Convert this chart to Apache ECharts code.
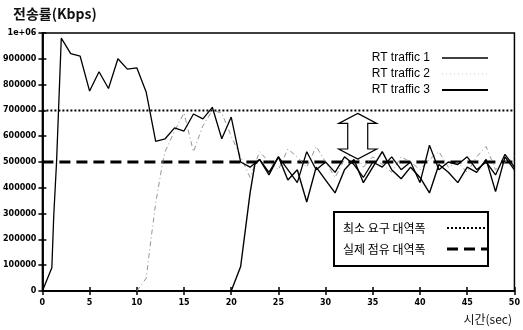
<!DOCTYPE html>
<html><head><meta charset="utf-8">
<script src="https://cdn.jsdelivr.net/npm/echarts@6/dist/echarts.min.js"></script>
<style>html,body{margin:0;padding:0;background:#fff}#c{width:523px;height:330px}</style>
</head><body><div id="c"></div>
<script>
// time (sec), throughput (bps)
var traffic1 = [[0,0],[1,90000],[1.2,290000],[1.5,500000],[2,980000],[3,920000],[4,910000],[5,775000],[6,850000],[7,785000],[8,900000],[9,860000],[10,865000],[11,770000],[12,580000],[13,590000],[14,632000],[15,620000],[16,686000],[17,667000],[18,712000],[19,590000],[20,674000],[21,500000],[22,480000],[23,510000],[24,450000],[25,520000],[26,470000],[27,420000],[28,540000],[29,470000],[30,500000],[31,460000],[32,520000],[33,490000],[34,440000],[35,500000],[36,480000],[37,520000],[38,470000],[39,500000],[40,420000],[41,565000],[42,470000],[43,500000],[44,490000],[45,520000],[46,470000],[47,500000],[48,450000],[49,530000],[50,480000]];
var traffic2 = [[10,0],[11,50000],[11.5,200000],[12,340000],[12.7,490000],[13,540000],[14,620000],[15,690000],[16,540000],[17,640000],[18,700000],[19,690000],[20,600000],[21,520000],[22,440000],[23,540000],[24,500000],[25,470000],[26,550000],[27,520000],[28,480000],[29,560000],[30,500000],[31,440000],[32,510000],[33,540000],[34,480000],[35,520000],[36,490000],[37,460000],[38,520000],[39,500000],[40,470000],[41,510000],[42,540000],[43,480000],[44,500000],[45,460000],[46,520000],[47,560000],[48,470000],[49,500000],[50,520000]];
var traffic3 = [[20,0],[21,95000],[22,380000],[22.5,490000],[23,510000],[24,460000],[25,520000],[26,430000],[27,470000],[28,345000],[29,480000],[30,430000],[31,380000],[32,470000],[33,510000],[34,420000],[35,480000],[36,540000],[37,470000],[38,435000],[39,480000],[40,440000],[41,380000],[42,490000],[43,460000],[44,420000],[45,480000],[46,460000],[47,510000],[48,385000],[49,520000],[50,470000]];
var minRequired = 700000;
var actualOccupied = 500000;
var timeRange = [0, 50];
var seriesNames = ['RT traffic 1','RT traffic 2','RT traffic 3'];
var refNames = ['최소 요구 대역폭','실제 점유 대역폭'];
var yTop = 1000000;

var chart = echarts.init(document.getElementById('c'));
var axisLabelStyle = {color:'#000', fontSize:8, fontWeight:'bold', fontFamily:'DejaVu Sans'};
var styles = {
  t1:{color:'#000', width:1.3},
  t2:{color:'#888', width:0.9, type:[5,3,1,3]},
  t3:{color:'#000', width:1.4},
  minReq:{color:'#000', width:2, type:[2,2]},
  actual:{color:'#000', width:3, type:[11,6]}
};
function dashOf(t){ return Array.isArray(t) ? t : null; }

var option = {
  animation:false,
  backgroundColor:'#fff',
  grid:{left:41, right:7, top:33, bottom:39, show:true, borderColor:'#000', borderWidth:1.5},
  title:[
    {text:'전송률(Kbps)', left:8, top:2, textStyle:{fontSize:14, fontWeight:'bold', fontFamily:'Noto Sans CJK KR', color:'#111'}},
    {text:'시간(sec)', right:6, top:308, textStyle:{fontSize:12, fontWeight:'normal', fontFamily:'Noto Sans CJK KR', color:'#111'}}
  ],
  xAxis:[
    {type:'value', min:timeRange[0], max:timeRange[1], interval:5, position:'bottom',
     axisLine:{lineStyle:{color:'#000', width:1.5}}, axisTick:{inside:true, length:4, lineStyle:{color:'#000', width:1.5}},
     splitLine:{show:false}, axisLabel:axisLabelStyle},
    {type:'value', min:timeRange[0], max:timeRange[1], interval:5, position:'top',
     axisLine:{lineStyle:{color:'#000', width:1.5}}, axisTick:{inside:true, length:4, lineStyle:{color:'#000', width:1.5}},
     splitLine:{show:false}, axisLabel:{show:false}}
  ],
  yAxis:[
    {type:'value', min:0, max:yTop, interval:100000, position:'left',
     axisLine:{show:true, lineStyle:{color:'#000', width:1.5}}, axisTick:{show:true, inside:true, length:4, lineStyle:{color:'#000', width:1.5}},
     splitLine:{show:false}, axisLabel:Object.assign({margin:6, formatter:function(v){return v===1000000?'1e+06':String(v);}}, axisLabelStyle)},
    {type:'value', min:0, max:yTop, interval:100000, position:'right',
     axisLine:{show:true, lineStyle:{color:'#000', width:1.5}}, axisTick:{show:true, inside:true, length:4, lineStyle:{color:'#000', width:1.5}},
     splitLine:{show:false}, axisLabel:{show:false}}
  ],
  series:[
    {name:refNames[0], type:'line', symbol:'none', data:[[timeRange[0],minRequired],[timeRange[1],minRequired]], lineStyle:styles.minReq, z:1},
    {name:refNames[1], type:'line', symbol:'none', data:[[timeRange[0],actualOccupied],[timeRange[1],actualOccupied]], lineStyle:styles.actual, z:1},
    {name:seriesNames[1], type:'line', symbol:'none', data:traffic2, lineStyle:styles.t2, z:2},
    {name:seriesNames[0], type:'line', symbol:'none', data:traffic1, lineStyle:styles.t1, z:3},
    {name:seriesNames[2], type:'line', symbol:'none', data:traffic3, lineStyle:styles.t3, z:3}
  ]
};
chart.setOption(option);

// hollow double arrow between the two reference levels
var cx = 33.4;
var pTop = chart.convertToPixel({gridIndex:0}, [cx, minRequired]);
var pBot = chart.convertToPixel({gridIndex:0}, [cx, actualOccupied]);
var x0 = pTop[0], yT = pTop[1] + 3, yB = pBot[1] - 3;
var hw = 19, sw = 10, hh = 10;
var g = [{type:'polygon', z:10, shape:{points:[
  [x0, yT],[x0+hw, yT+hh],[x0+sw, yT+hh],[x0+sw, yB-hh],[x0+hw, yB-hh],[x0, yB],
  [x0-hw, yB-hh],[x0-sw, yB-hh],[x0-sw, yT+hh],[x0-hw, yT+hh]]},
  style:{fill:'#fff', stroke:'#000', lineWidth:1.2}}];

// legend 1 (traffic series) - text, then line sample
var l1Styles = [styles.t1, {color:'#ccc', width:1, type:[1,3]}, {color:'#000', width:2}];
seriesNames.forEach(function(n, i){
  var y = 58 + i*16;
  g.push({type:'text', z:20, style:{text:n, x:430, y:y, align:'right', verticalAlign:'middle',
    font:'12px "Liberation Sans", Arial, sans-serif', fill:'#000'}});
  g.push({type:'line', z:20, shape:{x1:442, y1:y, x2:488, y2:y},
    style:{stroke:l1Styles[i].color, lineWidth:l1Styles[i].width, lineDash:dashOf(l1Styles[i].type)}});
});
// legend 2 (reference levels) in a box
g.push({type:'rect', z:20, shape:{x:334, y:212, width:154, height:54}, style:{fill:'#fff', stroke:'#000', lineWidth:2}});
var l2Styles = [styles.minReq, styles.actual];
refNames.forEach(function(n, i){
  var y = 228 + i*21;
  g.push({type:'text', z:21, style:{text:n, x:343, y:y, align:'left', verticalAlign:'middle',
    font:'12px "Noto Sans CJK KR", sans-serif', fill:'#000'}});
  g.push({type:'line', z:21, shape:{x1:447, y1:y, x2:487, y2:y},
    style:{stroke:l2Styles[i].color, lineWidth:l2Styles[i].width, lineDash:dashOf(l2Styles[i].type)}});
});
chart.setOption({graphic:g});
</script></body></html>
